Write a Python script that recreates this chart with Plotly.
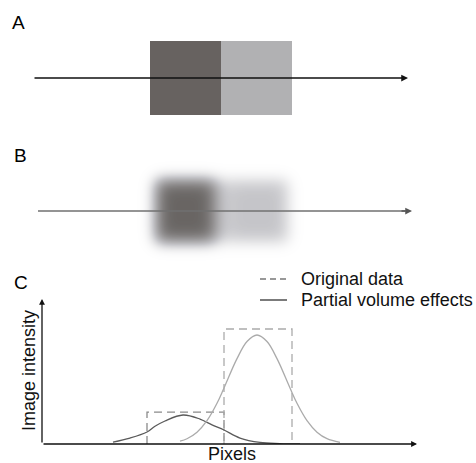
import numpy as np
import plotly.graph_objects as go

# ---------------- data ----------------
# Panel A/B: relative darkness of the two squares (left, right)
square_darkness = [1.0, 0.55]

# Panel C: original (step) profile, x in pixels along the profile, y relative intensity
orig_dark_x = [105, 105, 182, 182]
orig_dark_y = [0, 0.278, 0.278, 0]
orig_light_x = [182, 182, 250, 250]
orig_light_y = [0, 1.0, 1.0, 0]

# Panel C: blurred (partial volume) profiles
pve_dark_x = [71, 88, 105, 113, 123, 141, 158, 170, 182, 198, 218, 238, 258]
pve_dark_y = [0.017, 0.052, 0.104, 0.154, 0.200, 0.252, 0.217, 0.167, 0.122, 0.052, 0.014, 0.004, 0.0]
pve_light_x = [138, 145, 155, 165, 175, 182, 195, 205, 215, 225, 235, 248, 255, 265, 275, 285, 298]
pve_light_y = [0.025, 0.046, 0.103, 0.203, 0.354, 0.487, 0.742, 0.891, 0.948, 0.891, 0.742,
               0.487, 0.354, 0.203, 0.103, 0.046, 0.014]

legend_labels = ["Original data", "Partial volume effects"]
panel_labels = ["A", "B", "C"]

W, H = 476, 463
FONT = "Liberation Sans, Arial, sans-serif"

# ---------------- blurred image for panel B ----------------
gx = np.arange(90, 351, 1)
gy = np.arange(130, 291, 1)
img = np.zeros((gy.size, gx.size))
boxes = [(152, 219), (223, 292)]
for (x0, x1), d in zip(boxes, square_darkness):
    mx = (gx >= x0) & (gx < x1)
    my = (gy >= 176) & (gy < 246)
    img[np.ix_(my, mx)] = d
sig = 9.0
k = np.arange(-28, 29)
ker = np.exp(-k**2 / (2 * sig**2)); ker /= ker.sum()
img = np.apply_along_axis(lambda r: np.convolve(r, ker, mode="same"), 1, img)
img = np.apply_along_axis(lambda c: np.convolve(c, ker, mode="same"), 0, img)
img = img[::2, ::2]
hx, hy = gx[::2], gy[::2]

fig = go.Figure()

# Panel B arrow line (below the blurred image)
fig.add_trace(go.Scatter(x=[38, 405], y=[211, 211], mode="lines",
                         line=dict(color="#707070", width=1.6),
                         hoverinfo="skip", showlegend=False, xaxis="x", yaxis="y"))
fig.add_trace(go.Heatmap(x=hx, y=hy, z=img, zmin=0, zmax=1, zsmooth="best",
                         colorscale=[[0, "rgba(255,255,255,0)"],
                                     [0.55, "rgba(182,182,187,0.80)"],
                                     [1, "rgba(100,96,94,0.97)"]],
                         showscale=False, hoverinfo="skip", xaxis="x", yaxis="y"))

# Panel C traces
fig.add_trace(go.Scatter(x=orig_dark_x, y=orig_dark_y, mode="lines",
                         line=dict(color="#8a8a8a", width=1.3, dash="8px,5px"),
                         showlegend=False, xaxis="x2", yaxis="y2"))
fig.add_trace(go.Scatter(x=orig_light_x, y=orig_light_y, mode="lines",
                         line=dict(color="#ababab", width=1.3, dash="8px,5px"),
                         showlegend=False, xaxis="x2", yaxis="y2"))
fig.add_trace(go.Scatter(x=pve_dark_x, y=pve_dark_y, mode="lines", line_shape="spline",
                         line=dict(color="#5a5a5a", width=1.3),
                         showlegend=False, xaxis="x2", yaxis="y2"))
fig.add_trace(go.Scatter(x=pve_light_x, y=pve_light_y, mode="lines", line_shape="spline",
                         line=dict(color="#ababab", width=1.3),
                         showlegend=False, xaxis="x2", yaxis="y2"))

shapes = [
    # Panel A squares
    dict(type="rect", xref="x", yref="y", x0=150, x1=221, y0=41, y1=115,
         fillcolor="#676260", line_width=0, layer="below"),
    dict(type="rect", xref="x", yref="y", x0=221, x1=292, y0=41, y1=115,
         fillcolor="#b1b1b3", line_width=0, layer="below"),
    # legend samples
    dict(type="line", xref="x", yref="y", x0=260, x1=288, y0=279, y1=279,
         line=dict(color="#777777", width=1.3, dash="6px,4px")),
    dict(type="line", xref="x", yref="y", x0=260, x1=287, y0=300, y1=300,
         line=dict(color="#333333", width=1.3)),
]

def arrow(x0, y0, x1, y1, color="#111111", w=1.5):
    return dict(x=x1, y=y1, ax=x0, ay=y0, xref="x", yref="y", axref="x", ayref="y",
                text="", showarrow=True, arrowhead=2, arrowsize=0.9, arrowwidth=w,
                arrowcolor=color, standoff=0, startstandoff=0)

ann = [
    arrow(33, 78, 408, 78),
    arrow(400, 211, 412, 211, color="#555555"),
    arrow(42, 444, 42, 299, w=1.3),
    arrow(42, 444, 417, 444, w=1.3),
]
for lab, (px, py) in zip(panel_labels, [(10, 22), (12, 155), (12, 282)]):
    ann.append(dict(x=px, y=py, xref="x", yref="y", text=lab, showarrow=False,
                    xanchor="left", yanchor="middle",
                    font=dict(family=FONT, size=19, color="#000")))
for lab, py in zip(legend_labels, [279, 300]):
    ann.append(dict(x=299, y=py, xref="x", yref="y", text=lab, showarrow=False,
                    xanchor="left", yanchor="middle",
                    font=dict(family=FONT, size=18, color="#111")))
ann.append(dict(x=232, y=454, xref="x", yref="y", text="Pixels", showarrow=False,
                xanchor="center", yanchor="middle",
                font=dict(family=FONT, size=18, color="#111")))
ann.append(dict(x=29, y=371, xref="x", yref="y", text="Image intensity", showarrow=False,
                textangle=-90, xanchor="center", yanchor="middle",
                font=dict(family=FONT, size=18, color="#111")))

fig.update_layout(
    width=W, height=H, margin=dict(l=0, r=0, t=0, b=0),
    paper_bgcolor="white", plot_bgcolor="rgba(0,0,0,0)",
    xaxis=dict(range=[0, W], domain=[0, 1], visible=False, fixedrange=True),
    yaxis=dict(range=[H, 0], domain=[0, 1], visible=False, fixedrange=True),
    xaxis2=dict(range=[0, 373], domain=[42 / W, 415 / W], anchor="y2", visible=False),
    yaxis2=dict(range=[0, 144 / 115], domain=[(H - 444) / H, (H - 300) / H],
                anchor="x2", visible=False),
    shapes=shapes, annotations=ann, showlegend=False,
)

fig.write_html("out.html")
